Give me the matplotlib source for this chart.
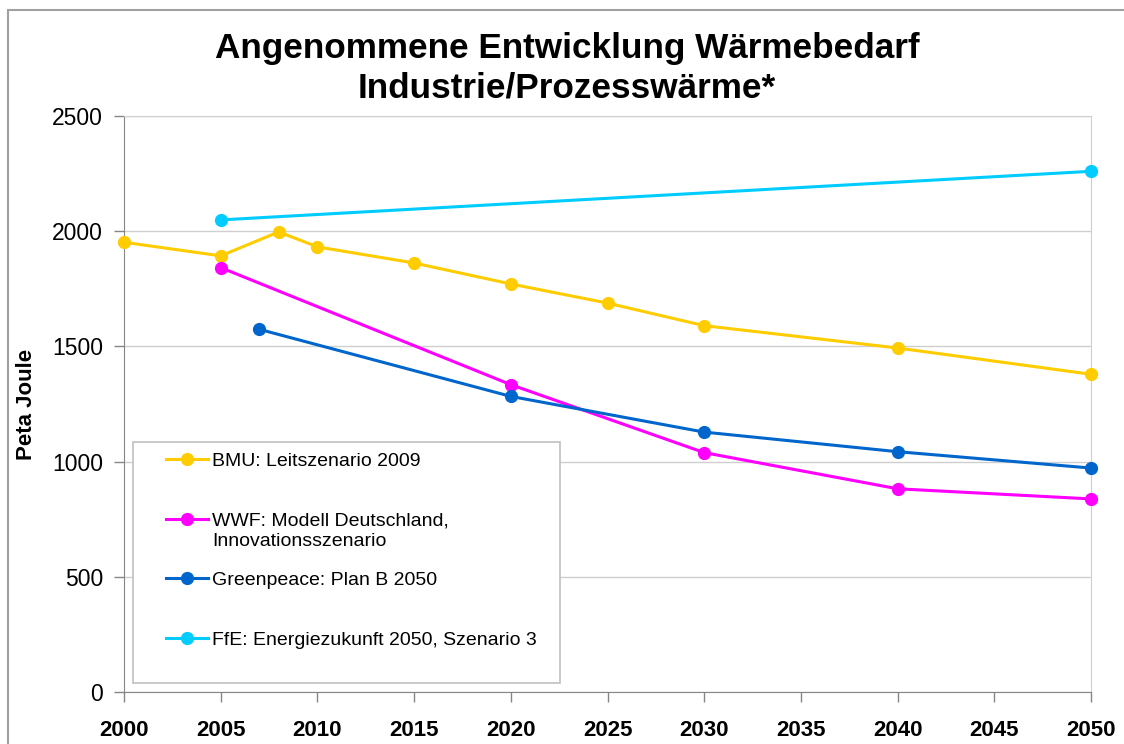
import matplotlib
matplotlib.use('Agg')
import matplotlib.pyplot as plt
from matplotlib.patches import Rectangle

plt.rcParams['font.family'] = ['Liberation Sans', 'DejaVu Sans']

# Werte (Peta Joule)
bmu_years = [2000, 2005, 2008, 2010, 2015, 2020, 2025, 2030, 2040, 2050]
bmu_values = [1952, 1893, 1997, 1932, 1862, 1771, 1688, 1590, 1493, 1379]

wwf_years = [2005, 2020, 2030, 2040, 2050]
wwf_values = [1842, 1334, 1039, 882, 838]

gp_years = [2007, 2020, 2030, 2040, 2050]
gp_values = [1574, 1283, 1128, 1043, 972]

ffe_years = [2005, 2050]
ffe_values = [2049, 2260]

series_labels = ['BMU: Leitszenario 2009',
                 'WWF: Modell Deutschland,',
                 'Greenpeace: Plan B 2050',
                 'FfE: Energiezukunft 2050, Szenario 3']
wwf_label_line2 = 'Innovationsszenario'
series_colors = ['#FFCC00', '#FF00FF', '#0066CC', '#00CCFF']

x_ticks = list(range(2000, 2051, 5))
y_ticks = [0, 500, 1000, 1500, 2000, 2500]

fig = plt.figure(figsize=(11.24, 7.44), dpi=100)
ax = fig.add_axes([124 / 1124, 1 - 692 / 744, 967 / 1124, 576 / 744])

all_series = [(bmu_years, bmu_values), (wwf_years, wwf_values),
              (gp_years, gp_values), (ffe_years, ffe_values)]
for (xs, ys), lab, col in zip(all_series, series_labels, series_colors):
    ax.plot(xs, ys, color=col, lw=2.2, marker='o', markersize=8.5,
            label=lab, zorder=3, clip_on=False)

ax.set_xlim(2000, 2050)
ax.set_ylim(0, 2500)
ax.set_xticks(x_ticks)
ax.set_yticks(y_ticks)
ax.set_xticklabels([str(t) for t in x_ticks], fontweight='bold', fontsize=16)
ax.set_yticklabels([str(t) for t in y_ticks], fontsize=16.5)
ax.tick_params(axis='both', direction='out', length=7, width=1, color='#868686')
ax.tick_params(axis='x', pad=13)
ax.tick_params(axis='y', pad=8)

ax.grid(axis='y', color='#CFCFCF', lw=1)
ax.set_axisbelow(True)
for side in ['left', 'bottom']:
    ax.spines[side].set_color('#868686')
for side in ['top', 'right']:
    ax.spines[side].set_color('#CFCFCF')

# y-Achsenbeschriftung
fig.text(27 / 1124, 1 - 404 / 744, 'Peta Joule', rotation=90,
         ha='center', va='center', fontsize=16, fontweight='bold')

# Titel (zweizeilig)
fig.text(567 / 1124, 1 - 58 / 744, 'Angenommene Entwicklung Wärmebedarf',
         ha='center', va='baseline', fontsize=25.3, fontweight='bold')
fig.text(567 / 1124, 1 - 97 / 744, 'Industrie/Prozesswärme*',
         ha='center', va='baseline', fontsize=25.3, fontweight='bold')

# Legendenrahmen wie im Original
ax.add_patch(Rectangle((9 / 967, 9 / 576), 427 / 967, 241 / 576,
                       transform=ax.transAxes, facecolor='white',
                       edgecolor='#C0C0C0', lw=1.2, zorder=4))
leg = ax.legend(loc='upper left', bbox_to_anchor=(0.033, 0.433),
                frameon=False, fontsize=14, handlelength=2.2,
                handletextpad=0.2, labelspacing=2.16, borderpad=0)
leg.set_zorder(5)
# zweite Zeile des WWF-Eintrags haengt unter der ersten
ax.text(88 / 967, (692 - 542) / 576, wwf_label_line2, transform=ax.transAxes,
        fontsize=14, ha='left', va='center', zorder=6)

# äußerer Rahmen
fig.add_artist(Rectangle((8 / 1124, -0.05), 1.2, 1 - 10 / 744 + 0.05,
                         transform=fig.transFigure, fill=False,
                         edgecolor='#A0A0A0', lw=1.5))

fig.savefig('out.png', dpi=100)
